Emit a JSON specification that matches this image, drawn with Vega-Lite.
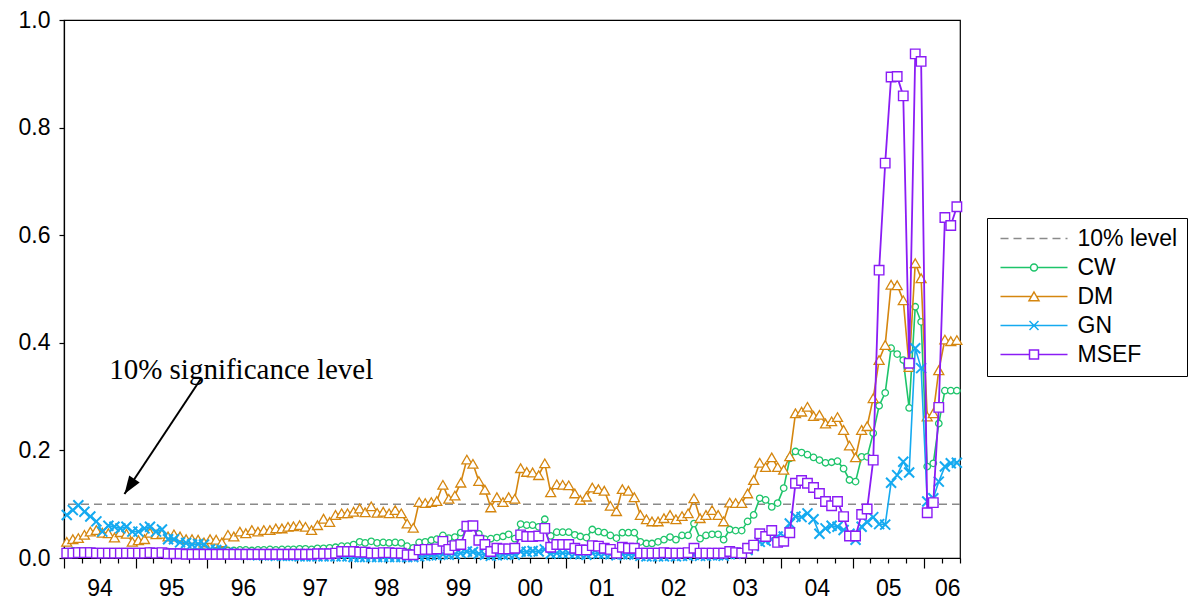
{
  "$schema": "https://vega.github.io/schema/vega-lite/v6.json",
  "width": 896,
  "height": 538,
  "autosize": "none",
  "padding": {"left": 64, "top": 20, "right": 231, "bottom": 43},
  "background": "white",
  "datasets": {
    "monthly": [
      {"date":"1994-01-15","CW":0.012,"DM":0.030,"GN":0.080,"MSEF":0.009},
      {"date":"1994-02-15","CW":0.013,"DM":0.035,"GN":0.089,"MSEF":0.009},
      {"date":"1994-03-15","CW":0.013,"DM":0.037,"GN":0.098,"MSEF":0.010},
      {"date":"1994-04-15","CW":0.013,"DM":0.043,"GN":0.086,"MSEF":0.010},
      {"date":"1994-05-15","CW":0.013,"DM":0.049,"GN":0.077,"MSEF":0.010},
      {"date":"1994-06-15","CW":0.012,"DM":0.052,"GN":0.068,"MSEF":0.009},
      {"date":"1994-07-15","CW":0.012,"DM":0.047,"GN":0.049,"MSEF":0.009},
      {"date":"1994-08-15","CW":0.012,"DM":0.046,"GN":0.060,"MSEF":0.009},
      {"date":"1994-09-15","CW":0.012,"DM":0.038,"GN":0.058,"MSEF":0.009},
      {"date":"1994-10-15","CW":0.012,"DM":0.048,"GN":0.055,"MSEF":0.009},
      {"date":"1994-11-15","CW":0.012,"DM":0.045,"GN":0.058,"MSEF":0.009},
      {"date":"1994-12-15","CW":0.012,"DM":0.030,"GN":0.049,"MSEF":0.009},
      {"date":"1995-01-15","CW":0.012,"DM":0.033,"GN":0.049,"MSEF":0.009},
      {"date":"1995-02-15","CW":0.012,"DM":0.035,"GN":0.055,"MSEF":0.009},
      {"date":"1995-03-15","CW":0.013,"DM":0.047,"GN":0.058,"MSEF":0.010},
      {"date":"1995-04-15","CW":0.012,"DM":0.044,"GN":0.049,"MSEF":0.009},
      {"date":"1995-05-15","CW":0.012,"DM":0.045,"GN":0.053,"MSEF":0.010},
      {"date":"1995-06-15","CW":0.012,"DM":0.040,"GN":0.035,"MSEF":0.008},
      {"date":"1995-07-15","CW":0.011,"DM":0.044,"GN":0.035,"MSEF":0.008},
      {"date":"1995-08-15","CW":0.011,"DM":0.040,"GN":0.029,"MSEF":0.008},
      {"date":"1995-09-15","CW":0.011,"DM":0.035,"GN":0.028,"MSEF":0.007},
      {"date":"1995-10-15","CW":0.011,"DM":0.035,"GN":0.025,"MSEF":0.007},
      {"date":"1995-11-15","CW":0.011,"DM":0.034,"GN":0.026,"MSEF":0.007},
      {"date":"1995-12-15","CW":0.011,"DM":0.029,"GN":0.025,"MSEF":0.007},
      {"date":"1996-01-15","CW":0.012,"DM":0.035,"GN":0.016,"MSEF":0.007},
      {"date":"1996-02-15","CW":0.013,"DM":0.034,"GN":0.015,"MSEF":0.007},
      {"date":"1996-03-15","CW":0.013,"DM":0.029,"GN":0.015,"MSEF":0.007},
      {"date":"1996-04-15","CW":0.014,"DM":0.043,"GN":0.010,"MSEF":0.007},
      {"date":"1996-05-15","CW":0.014,"DM":0.040,"GN":0.008,"MSEF":0.007},
      {"date":"1996-06-15","CW":0.015,"DM":0.049,"GN":0.007,"MSEF":0.007},
      {"date":"1996-07-15","CW":0.015,"DM":0.046,"GN":0.006,"MSEF":0.007},
      {"date":"1996-08-15","CW":0.014,"DM":0.052,"GN":0.006,"MSEF":0.007},
      {"date":"1996-09-15","CW":0.015,"DM":0.049,"GN":0.005,"MSEF":0.007},
      {"date":"1996-10-15","CW":0.015,"DM":0.052,"GN":0.005,"MSEF":0.007},
      {"date":"1996-11-15","CW":0.016,"DM":0.052,"GN":0.005,"MSEF":0.007},
      {"date":"1996-12-15","CW":0.015,"DM":0.055,"GN":0.004,"MSEF":0.007},
      {"date":"1997-01-15","CW":0.016,"DM":0.055,"GN":0.004,"MSEF":0.007},
      {"date":"1997-02-15","CW":0.016,"DM":0.058,"GN":0.004,"MSEF":0.007},
      {"date":"1997-03-15","CW":0.016,"DM":0.059,"GN":0.004,"MSEF":0.007},
      {"date":"1997-04-15","CW":0.017,"DM":0.061,"GN":0.003,"MSEF":0.007},
      {"date":"1997-05-15","CW":0.017,"DM":0.058,"GN":0.003,"MSEF":0.007},
      {"date":"1997-06-15","CW":0.016,"DM":0.052,"GN":0.003,"MSEF":0.007},
      {"date":"1997-07-15","CW":0.018,"DM":0.061,"GN":0.003,"MSEF":0.008},
      {"date":"1997-08-15","CW":0.018,"DM":0.073,"GN":0.003,"MSEF":0.008},
      {"date":"1997-09-15","CW":0.019,"DM":0.067,"GN":0.003,"MSEF":0.008},
      {"date":"1997-10-15","CW":0.020,"DM":0.080,"GN":0.003,"MSEF":0.009},
      {"date":"1997-11-15","CW":0.022,"DM":0.083,"GN":0.003,"MSEF":0.012},
      {"date":"1997-12-15","CW":0.022,"DM":0.083,"GN":0.003,"MSEF":0.012},
      {"date":"1998-01-15","CW":0.025,"DM":0.086,"GN":0.002,"MSEF":0.012},
      {"date":"1998-02-15","CW":0.030,"DM":0.092,"GN":0.002,"MSEF":0.011},
      {"date":"1998-03-15","CW":0.028,"DM":0.085,"GN":0.002,"MSEF":0.011},
      {"date":"1998-04-15","CW":0.031,"DM":0.096,"GN":0.002,"MSEF":0.009},
      {"date":"1998-05-15","CW":0.028,"DM":0.084,"GN":0.002,"MSEF":0.009},
      {"date":"1998-06-15","CW":0.029,"DM":0.086,"GN":0.002,"MSEF":0.010},
      {"date":"1998-07-15","CW":0.028,"DM":0.083,"GN":0.002,"MSEF":0.010},
      {"date":"1998-08-15","CW":0.029,"DM":0.089,"GN":0.002,"MSEF":0.009},
      {"date":"1998-09-15","CW":0.028,"DM":0.083,"GN":0.002,"MSEF":0.009},
      {"date":"1998-10-15","CW":0.022,"DM":0.064,"GN":0.002,"MSEF":0.006},
      {"date":"1998-11-15","CW":0.019,"DM":0.056,"GN":0.002,"MSEF":0.006},
      {"date":"1998-12-15","CW":0.029,"DM":0.104,"GN":0.003,"MSEF":0.015},
      {"date":"1999-01-15","CW":0.030,"DM":0.102,"GN":0.004,"MSEF":0.016},
      {"date":"1999-02-15","CW":0.033,"DM":0.104,"GN":0.005,"MSEF":0.016},
      {"date":"1999-03-15","CW":0.035,"DM":0.106,"GN":0.005,"MSEF":0.017},
      {"date":"1999-04-15","CW":0.042,"DM":0.136,"GN":0.007,"MSEF":0.031},
      {"date":"1999-05-15","CW":0.037,"DM":0.110,"GN":0.006,"MSEF":0.016},
      {"date":"1999-06-15","CW":0.039,"DM":0.116,"GN":0.007,"MSEF":0.023},
      {"date":"1999-07-15","CW":0.047,"DM":0.140,"GN":0.009,"MSEF":0.025},
      {"date":"1999-08-15","CW":0.060,"DM":0.183,"GN":0.012,"MSEF":0.059},
      {"date":"1999-09-15","CW":0.059,"DM":0.175,"GN":0.011,"MSEF":0.060},
      {"date":"1999-10-15","CW":0.045,"DM":0.143,"GN":0.008,"MSEF":0.033},
      {"date":"1999-11-15","CW":0.035,"DM":0.127,"GN":0.006,"MSEF":0.025},
      {"date":"1999-12-15","CW":0.036,"DM":0.094,"GN":0.004,"MSEF":0.012},
      {"date":"2000-01-15","CW":0.038,"DM":0.113,"GN":0.005,"MSEF":0.018},
      {"date":"2000-02-15","CW":0.040,"DM":0.104,"GN":0.006,"MSEF":0.017},
      {"date":"2000-03-15","CW":0.044,"DM":0.113,"GN":0.007,"MSEF":0.017},
      {"date":"2000-04-15","CW":0.036,"DM":0.110,"GN":0.006,"MSEF":0.018},
      {"date":"2000-05-15","CW":0.063,"DM":0.167,"GN":0.012,"MSEF":0.043},
      {"date":"2000-06-15","CW":0.061,"DM":0.160,"GN":0.011,"MSEF":0.040},
      {"date":"2000-07-15","CW":0.061,"DM":0.159,"GN":0.013,"MSEF":0.040},
      {"date":"2000-08-15","CW":0.058,"DM":0.154,"GN":0.012,"MSEF":0.041},
      {"date":"2000-09-15","CW":0.072,"DM":0.176,"GN":0.016,"MSEF":0.055},
      {"date":"2000-10-15","CW":0.041,"DM":0.122,"GN":0.008,"MSEF":0.020},
      {"date":"2000-11-15","CW":0.048,"DM":0.137,"GN":0.009,"MSEF":0.025},
      {"date":"2000-12-15","CW":0.048,"DM":0.136,"GN":0.009,"MSEF":0.025},
      {"date":"2001-01-15","CW":0.048,"DM":0.135,"GN":0.009,"MSEF":0.025},
      {"date":"2001-02-15","CW":0.043,"DM":0.120,"GN":0.008,"MSEF":0.018},
      {"date":"2001-03-15","CW":0.040,"DM":0.108,"GN":0.007,"MSEF":0.015},
      {"date":"2001-04-15","CW":0.038,"DM":0.114,"GN":0.006,"MSEF":0.015},
      {"date":"2001-05-15","CW":0.053,"DM":0.131,"GN":0.009,"MSEF":0.023},
      {"date":"2001-06-15","CW":0.049,"DM":0.128,"GN":0.008,"MSEF":0.022},
      {"date":"2001-07-15","CW":0.047,"DM":0.125,"GN":0.008,"MSEF":0.018},
      {"date":"2001-08-15","CW":0.042,"DM":0.097,"GN":0.007,"MSEF":0.016},
      {"date":"2001-09-15","CW":0.037,"DM":0.087,"GN":0.005,"MSEF":0.009},
      {"date":"2001-10-15","CW":0.047,"DM":0.128,"GN":0.007,"MSEF":0.020},
      {"date":"2001-11-15","CW":0.047,"DM":0.125,"GN":0.007,"MSEF":0.018},
      {"date":"2001-12-15","CW":0.047,"DM":0.113,"GN":0.006,"MSEF":0.018},
      {"date":"2002-01-15","CW":0.030,"DM":0.080,"GN":0.004,"MSEF":0.009},
      {"date":"2002-02-15","CW":0.027,"DM":0.072,"GN":0.003,"MSEF":0.009},
      {"date":"2002-03-15","CW":0.027,"DM":0.068,"GN":0.003,"MSEF":0.009},
      {"date":"2002-04-15","CW":0.030,"DM":0.068,"GN":0.003,"MSEF":0.009},
      {"date":"2002-05-15","CW":0.034,"DM":0.074,"GN":0.003,"MSEF":0.010},
      {"date":"2002-06-15","CW":0.039,"DM":0.080,"GN":0.004,"MSEF":0.009},
      {"date":"2002-07-15","CW":0.034,"DM":0.072,"GN":0.003,"MSEF":0.009},
      {"date":"2002-08-15","CW":0.042,"DM":0.078,"GN":0.004,"MSEF":0.009},
      {"date":"2002-09-15","CW":0.042,"DM":0.083,"GN":0.004,"MSEF":0.010},
      {"date":"2002-10-15","CW":0.064,"DM":0.111,"GN":0.006,"MSEF":0.018},
      {"date":"2002-11-15","CW":0.036,"DM":0.074,"GN":0.004,"MSEF":0.009},
      {"date":"2002-12-15","CW":0.042,"DM":0.080,"GN":0.004,"MSEF":0.009},
      {"date":"2003-01-15","CW":0.044,"DM":0.089,"GN":0.005,"MSEF":0.009},
      {"date":"2003-02-15","CW":0.044,"DM":0.080,"GN":0.005,"MSEF":0.009},
      {"date":"2003-03-15","CW":0.034,"DM":0.068,"GN":0.004,"MSEF":0.009},
      {"date":"2003-04-15","CW":0.053,"DM":0.103,"GN":0.007,"MSEF":0.012},
      {"date":"2003-05-15","CW":0.051,"DM":0.102,"GN":0.008,"MSEF":0.010},
      {"date":"2003-06-15","CW":0.051,"DM":0.102,"GN":0.010,"MSEF":0.009},
      {"date":"2003-07-15","CW":0.068,"DM":0.120,"GN":0.015,"MSEF":0.018},
      {"date":"2003-08-15","CW":0.080,"DM":0.145,"GN":0.022,"MSEF":0.024},
      {"date":"2003-09-15","CW":0.111,"DM":0.177,"GN":0.030,"MSEF":0.045},
      {"date":"2003-10-15","CW":0.108,"DM":0.169,"GN":0.032,"MSEF":0.040},
      {"date":"2003-11-15","CW":0.095,"DM":0.187,"GN":0.035,"MSEF":0.051},
      {"date":"2003-12-15","CW":0.102,"DM":0.169,"GN":0.040,"MSEF":0.029},
      {"date":"2004-01-15","CW":0.130,"DM":0.164,"GN":0.040,"MSEF":0.031},
      {"date":"2004-02-15","CW":0.185,"DM":0.189,"GN":0.064,"MSEF":0.047},
      {"date":"2004-03-15","CW":0.198,"DM":0.269,"GN":0.077,"MSEF":0.139},
      {"date":"2004-04-15","CW":0.196,"DM":0.272,"GN":0.076,"MSEF":0.144},
      {"date":"2004-05-15","CW":0.192,"DM":0.281,"GN":0.083,"MSEF":0.139},
      {"date":"2004-06-15","CW":0.187,"DM":0.264,"GN":0.072,"MSEF":0.131},
      {"date":"2004-07-15","CW":0.182,"DM":0.266,"GN":0.045,"MSEF":0.120},
      {"date":"2004-08-15","CW":0.177,"DM":0.250,"GN":0.055,"MSEF":0.105},
      {"date":"2004-09-15","CW":0.178,"DM":0.254,"GN":0.060,"MSEF":0.097},
      {"date":"2004-10-15","CW":0.180,"DM":0.262,"GN":0.058,"MSEF":0.105},
      {"date":"2004-11-15","CW":0.166,"DM":0.238,"GN":0.052,"MSEF":0.077},
      {"date":"2004-12-15","CW":0.145,"DM":0.209,"GN":0.045,"MSEF":0.041},
      {"date":"2005-01-15","CW":0.142,"DM":0.187,"GN":0.034,"MSEF":0.041},
      {"date":"2005-02-15","CW":0.188,"DM":0.238,"GN":0.058,"MSEF":0.081},
      {"date":"2005-03-15","CW":0.188,"DM":0.245,"GN":0.067,"MSEF":0.091},
      {"date":"2005-04-15","CW":0.232,"DM":0.297,"GN":0.076,"MSEF":0.182},
      {"date":"2005-05-15","CW":0.283,"DM":0.368,"GN":0.063,"MSEF":0.535},
      {"date":"2005-06-15","CW":0.307,"DM":0.396,"GN":0.062,"MSEF":0.734},
      {"date":"2005-07-15","CW":0.390,"DM":0.508,"GN":0.140,"MSEF":0.894},
      {"date":"2005-08-15","CW":0.379,"DM":0.507,"GN":0.154,"MSEF":0.895},
      {"date":"2005-09-15","CW":0.368,"DM":0.479,"GN":0.179,"MSEF":0.859},
      {"date":"2005-10-15","CW":0.279,"DM":0.355,"GN":0.159,"MSEF":0.362},
      {"date":"2005-11-15","CW":0.467,"DM":0.548,"GN":0.390,"MSEF":0.937},
      {"date":"2005-12-15","CW":0.439,"DM":0.520,"GN":0.353,"MSEF":0.923},
      {"date":"2006-01-15","CW":0.170,"DM":0.263,"GN":0.105,"MSEF":0.084},
      {"date":"2006-02-15","CW":0.176,"DM":0.269,"GN":0.111,"MSEF":0.103},
      {"date":"2006-03-15","CW":0.250,"DM":0.349,"GN":0.142,"MSEF":0.280},
      {"date":"2006-04-15","CW":0.311,"DM":0.406,"GN":0.170,"MSEF":0.633},
      {"date":"2006-05-15","CW":0.311,"DM":0.403,"GN":0.176,"MSEF":0.618},
      {"date":"2006-06-15","CW":0.311,"DM":0.405,"GN":0.177,"MSEF":0.653}
    ],
    "threshold": [{"level": 0.1}],
    "note": [
      {"date": "1994-08-19", "level": 0.333, "text": "10% significance level",
       "date2": "1995-12-02", "level2": 0.3346, "tipDate": "1994-11-05", "tipLevel": 0.119}
    ]
  },
  "config": {
    "view": {"stroke": "black", "strokeWidth": 1.2},
    "axis": {
      "grid": false,
      "domainColor": "black",
      "domainWidth": 1.2,
      "tickColor": "black",
      "tickWidth": 1.2,
      "labelColor": "black",
      "labelFont": "Liberation Sans",
      "labelFontSize": 23
    }
  },
  "layer": [
    {
      "data": {"name": "threshold"},
      "mark": {"type": "rule", "color": "#8a8a8a", "strokeWidth": 1.6, "strokeDash": [8, 5]},
      "encoding": {
        "y": {"field": "level", "type": "quantitative", "scale": {"domain": [0, 1], "nice": false},
              "axis": {"title": null, "orient": "left", "values": [0, 0.2, 0.4, 0.6, 0.8, 1.0], "format": ".1f", "tickSize": 5, "labelPadding": 9}}
      }
    },
    {
      "data": {"name": "monthly"},
      "mark": {"type": "line", "color": "#1dc46a", "strokeWidth": 1.6,
               "point": {"shape": "circle", "filled": false, "fill": "white", "size": 42, "strokeWidth": 1.3, "color": "#1dc46a"}},
      "encoding": {
        "x": {"field": "date", "type": "temporal",
              "scale": {"type": "utc", "domain": [{"year": 1994, "month": 1, "date": 1, "utc": true}, {"year": 2006, "month": 7, "date": 1, "utc": true}], "nice": false},
              "axis": {
                "title": null,
                "orient": "bottom",
                "tickCount": {"interval": "month", "step": 3},
                "labelExpr": "utcmonth(datum.value) == 6 ? utcFormat(datum.value, '%y') : ''",
                "tickSize": {"condition": {"test": "utcmonth(datum.value) == 0", "value": 10}, "value": 5},
                "labelFlush": true,
                "labelOverlap": false,
                "labelPadding": 14
              }},
        "y": {"field": "CW", "type": "quantitative", "scale": {"domain": [0, 1], "nice": false}, "axis": null}
      }
    },
    {
      "data": {"name": "monthly"},
      "mark": {"type": "line", "color": "#d5860f", "strokeWidth": 1.6,
               "point": {"shape": "triangle-up", "filled": false, "fill": "white", "size": 100, "strokeWidth": 1.3, "color": "#d5860f"}},
      "encoding": {
        "x": {"field": "date", "type": "temporal",
              "scale": {"type": "utc", "domain": [{"year": 1994, "month": 1, "date": 1, "utc": true}, {"year": 2006, "month": 7, "date": 1, "utc": true}], "nice": false},
              "axis": null},
        "y": {"field": "DM", "type": "quantitative", "scale": {"domain": [0, 1], "nice": false}, "axis": null}
      }
    },
    {
      "data": {"name": "monthly"},
      "mark": {"type": "line", "color": "#15aaf0", "strokeWidth": 1.6,
               "point": {"shape": "M-1,-1L1,1M-1,1L1,-1", "filled": false, "size": 100, "strokeWidth": 2, "color": "#15aaf0"}},
      "encoding": {
        "x": {"field": "date", "type": "temporal",
              "scale": {"type": "utc", "domain": [{"year": 1994, "month": 1, "date": 1, "utc": true}, {"year": 2006, "month": 7, "date": 1, "utc": true}], "nice": false},
              "axis": null},
        "y": {"field": "GN", "type": "quantitative", "scale": {"domain": [0, 1], "nice": false}, "axis": null}
      }
    },
    {
      "data": {"name": "monthly"},
      "mark": {"type": "line", "color": "#8a1cf5", "strokeWidth": 1.8,
               "point": {"shape": "square", "filled": false, "fill": "white", "size": 90, "strokeWidth": 1.4, "color": "#8a1cf5"}},
      "encoding": {
        "x": {"field": "date", "type": "temporal",
              "scale": {"type": "utc", "domain": [{"year": 1994, "month": 1, "date": 1, "utc": true}, {"year": 2006, "month": 7, "date": 1, "utc": true}], "nice": false},
              "axis": null},
        "y": {"field": "MSEF", "type": "quantitative", "scale": {"domain": [0, 1], "nice": false}, "axis": null}
      }
    },
    {
      "data": {"name": "monthly"},
      "transform": [{"fold": ["CW", "DM", "GN", "MSEF"], "as": ["series", "value"]}],
      "mark": {"type": "point", "filled": false, "opacity": 0},
      "encoding": {
        "x": {"field": "date", "type": "temporal",
              "scale": {"type": "utc", "domain": [{"year": 1994, "month": 1, "date": 1, "utc": true}, {"year": 2006, "month": 7, "date": 1, "utc": true}], "nice": false},
              "axis": null},
        "y": {"field": "value", "type": "quantitative", "scale": {"domain": [0, 1], "nice": false}, "axis": null},
        "color": {
          "field": "series", "type": "nominal",
          "scale": {"domain": ["10% level", "CW", "DM", "GN", "MSEF"],
                    "range": ["#8a8a8a", "#1dc46a", "#d5860f", "#15aaf0", "#8a1cf5"]},
          "legend": {
            "title": null,
            "orient": "none",
            "legendX": 923,
            "legendY": 198,
            "padding": 9,
            "strokeColor": "black",
            "fillColor": "white",
            "symbolSize": 400,
            "symbolOffset": 26.5,
            "symbolStrokeWidth": 1.5,
            "symbolOpacity": 1,
            "labelOffset": 32,
            "labelExpr": "datum.label + '\u00a0\u00a0\u00a0\u00a0'",
            "labelFont": "Liberation Sans",
            "labelFontSize": 23,
            "labelColor": "black",
            "rowPadding": 5
          }
        },
        "shape": {
          "field": "series", "type": "nominal",
          "scale": {"domain": ["10% level", "CW", "DM", "GN", "MSEF"],
                    "range": [
                      "M-3.35,0H-2.55M-2.05,0H-1.25M-0.75,0H0.05M0.55,0H1.35M1.85,0H2.65M3.15,0H3.35",
                      "M-3.35,0H-0.35M0.35,0H3.35M-0.35,0A0.35,0.35,0,1,1,0.35,0A0.35,0.35,0,1,1,-0.35,0",
                      "M-3.35,0H-0.26M0.26,0H3.35M0,-0.45L0.5,0.42L-0.5,0.42Z",
                      "M-3.35,0H3.35M-0.45,-0.45L0.45,0.45M-0.45,0.45L0.45,-0.45",
                      "M-3.35,0H-0.45M0.45,0H3.35M-0.45,-0.45H0.45V0.45H-0.45Z"
                    ]},
          "legend": {
            "title": null,
            "orient": "none",
            "legendX": 923,
            "legendY": 198,
            "padding": 9,
            "strokeColor": "black",
            "fillColor": "white",
            "symbolSize": 400,
            "symbolOffset": 26.5,
            "symbolStrokeWidth": 1.5,
            "symbolOpacity": 1,
            "labelOffset": 32,
            "labelExpr": "datum.label + '\u00a0\u00a0\u00a0\u00a0'",
            "labelFont": "Liberation Sans",
            "labelFontSize": 23,
            "labelColor": "black",
            "rowPadding": 5
          }
        }
      }
    },
    {
      "data": {"name": "note"},
      "mark": {"type": "text", "align": "left", "baseline": "alphabetic", "font": "Liberation Serif", "fontSize": 29, "color": "black"},
      "encoding": {
        "x": {"field": "date", "type": "temporal",
              "scale": {"type": "utc", "domain": [{"year": 1994, "month": 1, "date": 1, "utc": true}, {"year": 2006, "month": 7, "date": 1, "utc": true}], "nice": false},
              "axis": null},
        "y": {"field": "level", "type": "quantitative", "scale": {"domain": [0, 1], "nice": false}, "axis": null},
        "text": {"field": "text"}
      }
    },
    {
      "data": {"name": "note"},
      "mark": {"type": "rule", "color": "black", "strokeWidth": 2},
      "encoding": {
        "x": {"field": "date2", "type": "temporal",
              "scale": {"type": "utc", "domain": [{"year": 1994, "month": 1, "date": 1, "utc": true}, {"year": 2006, "month": 7, "date": 1, "utc": true}], "nice": false},
              "axis": null},
        "y": {"field": "level2", "type": "quantitative", "scale": {"domain": [0, 1], "nice": false}, "axis": null},
        "x2": {"field": "tipDate"},
        "y2": {"field": "tipLevel"}
      }
    },
    {
      "data": {"name": "note"},
      "mark": {"type": "point", "shape": "M0,0L-0.35,1L0.35,1Z", "filled": true, "color": "black", "opacity": 1, "size": 1296, "angle": 213.6},
      "encoding": {
        "x": {"field": "tipDate", "type": "temporal",
              "scale": {"type": "utc", "domain": [{"year": 1994, "month": 1, "date": 1, "utc": true}, {"year": 2006, "month": 7, "date": 1, "utc": true}], "nice": false},
              "axis": null},
        "y": {"field": "tipLevel", "type": "quantitative", "scale": {"domain": [0, 1], "nice": false}, "axis": null}
      }
    }
  ],
  "resolve": {"axis": {"x": "independent", "y": "independent"}}
}
